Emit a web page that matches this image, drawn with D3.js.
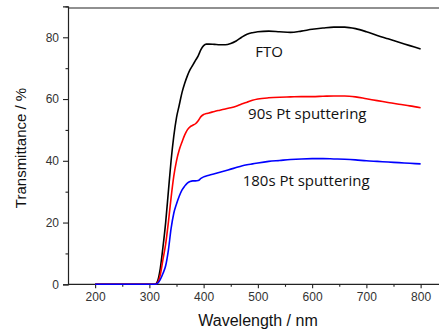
<!DOCTYPE html>
<html>
<head>
<meta charset="utf-8">
<script src="https://cdn.jsdelivr.net/npm/d3@7"></script>
<style>
  html, body { margin: 0; padding: 0; background: #fff; }
  svg { display: block; }
</style>
</head>
<body>
<svg id="chart" width="439" height="331"></svg>
<script>
// ---- data ----
const wavelengths = [200, 250, 300, 310, 315, 320, 325, 330, 335, 340, 345, 350, 355, 360, 365, 370, 375, 380, 385, 390, 395, 400, 405, 410, 420, 430, 440, 450, 460, 470, 480, 490, 500, 520, 540, 560, 580, 600, 620, 640, 660, 680, 700, 720, 740, 760, 780, 800];
const fto = [0, 0, 0, 0, 1, 5, 12, 20, 30, 40, 48, 54, 58, 62, 65, 67.5, 69.5, 71, 72.5, 74, 76, 77.3, 77.8, 77.8, 77.7, 77.6, 77.6, 78, 78.8, 80, 81, 81.5, 81.8, 82, 81.8, 81.6, 82, 82.6, 83, 83.3, 83.3, 82.8, 81.8, 80.6, 79.5, 78.4, 77.3, 76.2];
const pt90 = [0, 0, 0, 0, 0.5, 3, 8, 13, 20, 28, 35, 40, 43.5, 46, 48.3, 50, 51, 51.5, 52, 53, 54.3, 55, 55.3, 55.5, 56, 56.4, 56.8, 57.2, 57.7, 58.4, 59, 59.6, 60, 60.4, 60.6, 60.7, 60.8, 60.8, 60.9, 61, 61, 60.7, 60.1, 59.5, 58.9, 58.3, 57.8, 57.2];
const pt180 = [0, 0, 0, 0, 0.3, 1.5, 3.5, 6, 11, 18, 23, 26, 28.5, 30.5, 31.8, 32.8, 33.3, 33.5, 33.5, 33.6, 34.3, 34.8, 35.1, 35.3, 35.8, 36.3, 36.8, 37.3, 37.8, 38.3, 38.7, 39, 39.3, 39.8, 40.1, 40.4, 40.6, 40.7, 40.7, 40.6, 40.5, 40.3, 40, 39.8, 39.6, 39.4, 39.2, 39];
const seriesNames = ["FTO", "90s Pt sputtering", "180s Pt sputtering"];
const seriesColors = ["#000000", "#ff0000", "#0000ff"];
const xTicks = [200, 300, 400, 500, 600, 700, 800];
const xMinorTicks = [250, 350, 450, 550, 650, 750];
const yTicks = [0, 20, 40, 60, 80];
const yMinorTicks = [10, 30, 50, 70, 90];
const xTitle = "Wavelength / nm";
const yTitle = "Transmittance / %";

// ---- layout ----
const svg = d3.select("#chart");
const plotLeft = 68, plotBottom = 284.3, plotTop = 8;
const x = d3.scaleLinear().domain([150, 850]).range([plotLeft, plotLeft + 700 * 0.5425]);
const y = d3.scaleLinear().domain([0, 90]).range([plotBottom, plotBottom - 90 * 3.0875]);
const axisColor = "#222";
const labelColor = "#333";

// frame: top border
svg.append("line")
  .attr("x1", plotLeft).attr("x2", 439).attr("y1", plotTop).attr("y2", plotTop)
  .attr("stroke", axisColor).attr("stroke-width", 1.2);

// x axis
const gx = svg.append("g").attr("transform", `translate(0,${plotBottom})`);
gx.call(d3.axisBottom(x).tickValues(xTicks).tickSize(4).tickPadding(4).tickFormat(d3.format("d")));
gx.append("g").call(d3.axisBottom(x).tickValues(xMinorTicks).tickSize(2.5).tickFormat(""))
  .select(".domain").remove();
gx.select(".domain").attr("d", `M${plotLeft},0H439`);

// y axis
const gy = svg.append("g").attr("transform", `translate(${plotLeft},0)`);
gy.call(d3.axisLeft(y).tickValues(yTicks).tickSize(5).tickPadding(4).tickFormat(d3.format("d")));
gy.append("g").call(d3.axisLeft(y).tickValues(yMinorTicks).tickSize(2.5).tickFormat(""))
  .select(".domain").remove();

svg.selectAll(".domain").attr("stroke", axisColor).attr("stroke-width", 1.2);
svg.selectAll(".tick line").attr("stroke", axisColor).attr("stroke-width", 1.1);
svg.selectAll(".tick text")
  .attr("fill", labelColor)
  .style("font-family", "'Liberation Sans', Arial, sans-serif")
  .style("font-size", "12px");

// axis titles
svg.append("text")
  .attr("x", 258).attr("y", 326)
  .attr("text-anchor", "middle")
  .attr("fill", "#111")
  .style("font-family", "'Liberation Sans', Arial, sans-serif")
  .style("font-size", "16px")
  .text(xTitle);
svg.append("text")
  .attr("transform", "translate(26,148) rotate(-90)")
  .attr("text-anchor", "middle")
  .attr("fill", "#111")
  .style("font-family", "'Liberation Sans', Arial, sans-serif")
  .style("font-size", "15px")
  .text(yTitle);

// lines
const allSeries = [fto, pt90, pt180];
const line = d3.line()
  .x(d => x(d[0]))
  .y(d => y(d[1]))
  .curve(d3.curveMonotoneX);
allSeries.forEach((vals, i) => {
  svg.append("path")
    .datum(wavelengths.map((w, j) => [w, vals[j]]))
    .attr("fill", "none")
    .attr("stroke", seriesColors[i])
    .attr("stroke-width", 1.6)
    .attr("stroke-linejoin", "round")
    .attr("d", line);
});

// series labels (anchored in data coordinates)
const labelAnchors = [[495, 73.6], [482, 53.5], [472, 31.8]];
seriesNames.forEach((name, i) => {
  svg.append("text")
    .attr("x", x(labelAnchors[i][0]))
    .attr("y", y(labelAnchors[i][1]))
    .attr("fill", "#111")
    .style("font-family", "'Open Sans', sans-serif")
    .style("font-size", "15px")
    .text(name);
});
</script>
</body>
</html>
